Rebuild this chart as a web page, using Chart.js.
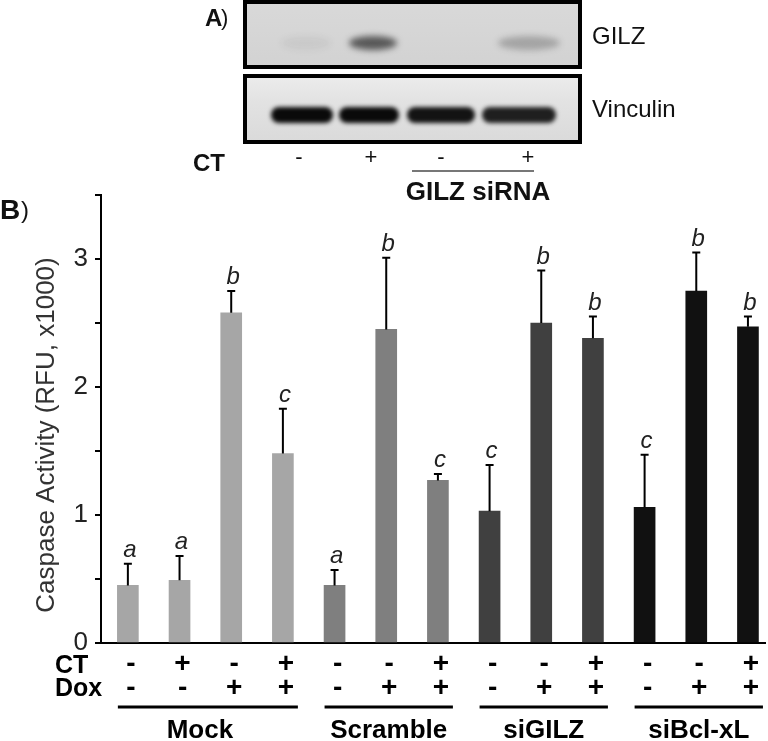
<!DOCTYPE html>
<html>
<head>
<meta charset="utf-8">
<script src="https://cdn.jsdelivr.net/npm/chart.js@4.4.0/dist/chart.umd.min.js"></script>
<style>
  html, body { margin: 0; padding: 0; background: #fff; }
  #wrap { position: relative; width: 768px; height: 741px; }
</style>
</head>
<body>
<div id="wrap"><canvas id="caspaseChart" width="768" height="741"></canvas></div>
<script>
// =====================
// Data (panel B)
// =====================
const groups = ['Mock', 'Scramble', 'siGILZ', 'siBcl-xL'];
const groupSizes = [4, 3, 3, 3];
const groupColors = ['#a6a6a6', '#7f7f7f', '#404040', '#111111'];
const ctRow = ['-', '+', '-', '+', '-', '-', '+', '-', '-', '+', '-', '-', '+'];
const doxRow = ['-', '-', '+', '+', '-', '+', '+', '-', '+', '+', '-', '+', '+'];
const caspaseMeans = [0.45, 0.49, 2.58, 1.48, 0.45, 2.45, 1.27, 1.03, 2.50, 2.38, 1.06, 2.75, 2.47];
const caspaseErrors = [0.17, 0.19, 0.17, 0.35, 0.12, 0.56, 0.05, 0.36, 0.41, 0.17, 0.41, 0.30, 0.08];
const sigLetters = ['a', 'a', 'b', 'c', 'a', 'b', 'c', 'c', 'b', 'b', 'c', 'b', 'b'];
const yLabelTicks = [0, 1, 2, 3];

// =====================
// Data (panel A blot)
// =====================
const blotCT = ['-', '+', '-', '+'];
const gilzBand = [0.06, 0.72, 0.0, 0.28];
const vinculinBand = [1.0, 1.0, 0.96, 0.9];

const FONT = '"Liberation Sans", Arial, sans-serif';

// bar colours, one per bar, from its group
const barColors = [];
groupSizes.forEach((n, g) => { for (let i = 0; i < n; i++) barColors.push(groupColors[g]); });

// =====================
// Western blot (panel A)
// =====================
const drawBlot = (ctx) => {
  const laneX = [302, 369, 441, 519];
  const laneW = [62, 60, 68, 74];
  ctx.save();
  // box backgrounds
  let g = ctx.createLinearGradient(0, 2, 0, 67);
  g.addColorStop(0, '#d9d9d9'); g.addColorStop(1, '#d2d2d2');
  ctx.fillStyle = g; ctx.fillRect(245, 2, 335, 65);
  g = ctx.createLinearGradient(0, 76, 0, 142);
  g.addColorStop(0, '#ececec'); g.addColorStop(0.4, '#e2e2e2'); g.addColorStop(1, '#dadada');
  ctx.fillStyle = g; ctx.fillRect(245, 76, 335, 66);

  ctx.save();
  ctx.beginPath(); ctx.rect(245, 2, 335, 65); ctx.rect(245, 76, 335, 66); ctx.clip();
  ctx.filter = 'blur(3px)';
  gilzBand.forEach((v, i) => {
    if (v <= 0) return;
    ctx.fillStyle = `rgba(40,40,40,${v})`;
    ctx.beginPath();
    ctx.ellipse(laneX[i] + (i === 3 ? 10 : 4), 43, laneW[i] / 2 - 6, 7, 0, 0, Math.PI * 2);
    ctx.fill();
  });
  ctx.filter = 'blur(2px)';
  vinculinBand.forEach((v, i) => {
    ctx.fillStyle = `rgba(10,10,10,${v})`;
    ctx.beginPath();
    ctx.roundRect(laneX[i] - laneW[i] / 2, 107, laneW[i], 16, 8);
    ctx.fill();
  });
  ctx.restore();

  ctx.strokeStyle = '#000'; ctx.lineWidth = 4;
  ctx.strokeRect(245, 2, 335, 65);
  ctx.strokeRect(245, 76, 335, 66);

  ctx.fillStyle = '#111';
  ctx.textBaseline = 'middle';
  ctx.textAlign = 'left';
  ctx.font = `24px ${FONT}`;
  ctx.fillText('GILZ', 592, 37);
  ctx.fillText('Vinculin', 592, 110);
  ctx.font = `bold 24px ${FONT}`;
  ctx.fillText('A', 205, 19);
  ctx.font = `22px ${FONT}`;
  ctx.fillText(')', 221, 19);
  ctx.font = `bold 24px ${FONT}`;
  ctx.fillText('CT', 193, 164);
  ctx.textAlign = 'center';
  ctx.font = `22px ${FONT}`;
  blotCT.forEach((s, i) => ctx.fillText(s, [299, 371, 441, 528][i], 158));
  ctx.strokeStyle = '#777'; ctx.lineWidth = 2;
  ctx.beginPath(); ctx.moveTo(412, 171); ctx.lineTo(534, 171); ctx.stroke();
  ctx.font = `bold 26px ${FONT}`;
  ctx.fillText('GILZ siRNA', 478, 193);
  ctx.restore();
};

// =====================
// Error bars, letters, labels (panel B)
// =====================
const annotatePlugin = {
  id: 'annotate',
  afterDatasetsDraw(chart) {
    const { ctx, scales: { x, y } } = chart;
    ctx.save();
    ctx.strokeStyle = '#000';
    ctx.lineWidth = 2;
    ctx.fillStyle = '#222';
    ctx.font = `italic 24px ${FONT}`;
    ctx.textAlign = 'center';
    ctx.textBaseline = 'alphabetic';
    caspaseMeans.forEach((m, i) => {
      const px = x.getPixelForValue(i);
      const top = y.getPixelForValue(m);
      const errTop = y.getPixelForValue(m + caspaseErrors[i]);
      ctx.beginPath();
      ctx.moveTo(px, top); ctx.lineTo(px, errTop);
      ctx.moveTo(px - 4, errTop); ctx.lineTo(px + 4, errTop);
      ctx.stroke();
      ctx.fillText(sigLetters[i], px + 2, errTop - 7);
    });
    ctx.restore();
  },
  afterDraw(chart) {
    const { ctx, scales: { x } } = chart;
    ctx.save();
    drawBlot(ctx);

    // panel letter
    ctx.fillStyle = '#111';
    ctx.textBaseline = 'middle';
    ctx.textAlign = 'left';
    ctx.font = `bold 28px ${FONT}`;
    ctx.fillText('B', 0, 211);
    ctx.font = `24px ${FONT}`;
    ctx.fillText(')', 21, 211);

    // y title
    ctx.save();
    ctx.translate(47, 435);
    ctx.rotate(-Math.PI / 2);
    ctx.textAlign = 'center';
    ctx.fillStyle = '#333';
    ctx.font = `26px ${FONT}`;
    ctx.fillText('Caspase Activity (RFU, x1000)', 0, 0);
    ctx.restore();

    // treatment rows
    ctx.fillStyle = '#000';
    ctx.font = `bold 25px ${FONT}`;
    ctx.textAlign = 'left';
    ctx.fillText('CT', 55, 666);
    ctx.fillText('Dox', 55, 689);
    ctx.textAlign = 'center';
    ctx.font = `bold 28px ${FONT}`;
    ctRow.forEach((s, i) => ctx.fillText(s, x.getPixelForValue(i) + 3, 664));
    doxRow.forEach((s, i) => ctx.fillText(s, x.getPixelForValue(i) + 3, 688));

    // group underlines and names
    let start = 0;
    ctx.lineWidth = 3;
    ctx.strokeStyle = '#000';
    ctx.font = `bold 26px ${FONT}`;
    groupSizes.forEach((n, g) => {
      const x0 = x.getPixelForValue(start) - 10;
      const x1 = x.getPixelForValue(start + n - 1) + 15;
      ctx.beginPath(); ctx.moveTo(x0, 707); ctx.lineTo(x1, 707); ctx.stroke();
      ctx.fillText(groups[g], (x0 + x1) / 2 - (g === 0 ? 8 : 0), 731);
      start += n;
    });
    ctx.restore();
  }
};

// =====================
// Render Caspase Chart
// =====================
const ctx = document.getElementById('caspaseChart').getContext('2d');
new Chart(ctx, {
  type: 'bar',
  data: {
    datasets: [{
      data: caspaseMeans.map((v, i) => ({ x: i, y: v })),
      backgroundColor: barColors,
      borderWidth: 0,
      barThickness: 21
    }]
  },
  options: {
    responsive: false,
    animation: false,
    layout: { padding: { top: 195, right: 3, left: 0, bottom: 0 } },
    plugins: { legend: { display: false }, tooltip: { enabled: false } },
    scales: {
      x: {
        type: 'linear',
        offset: false,
        min: -0.52,
        max: 12.33,
        ticks: { display: false },
        grid: { display: false, offset: false },
        border: { display: true, color: '#000', width: 2 },
        afterFit: (scale) => { scale.height = 98; }
      },
      y: {
        min: 0,
        max: 3.5,
        ticks: {
          stepSize: 0.5,
          padding: 7,
          color: '#222',
          font: { family: FONT, size: 26 },
          callback: (v) => (yLabelTicks.includes(v) ? String(v) : '')
        },
        grid: { drawOnChartArea: false, drawTicks: true, tickLength: 6, color: '#000', lineWidth: 2 },
        border: { display: true, color: '#000', width: 2 },
        afterFit: (scale) => { scale.width = 101; }
      }
    }
  },
  plugins: [annotatePlugin]
});
</script>
</body>
</html>
